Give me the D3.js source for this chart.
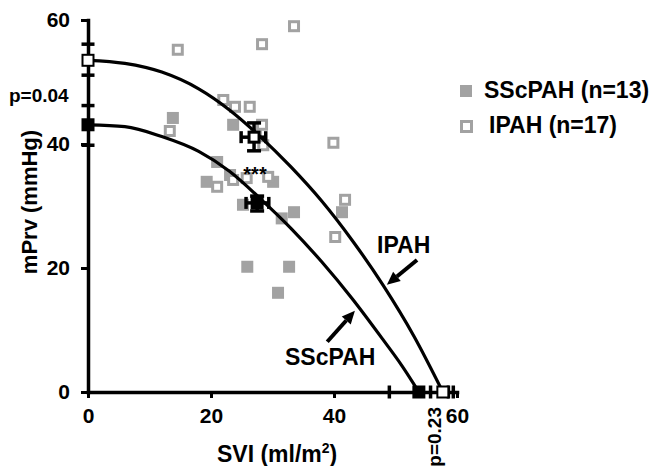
<!DOCTYPE html>
<html>
<head>
<meta charset="utf-8">
<script src="https://cdn.jsdelivr.net/npm/d3@7"></script>
<style>
  body { margin: 0; background: #fff; }
  svg { display: block; }
  text { font-family: "Liberation Sans", Arial, sans-serif; font-weight: bold; fill: #000; }
</style>
</head>
<body>
<div id="chart"></div>
<script>
// Individual patients, [SVI, mPrv]
var sscPoints = [
  [13.8, 44.2], [23.6, 43.1], [21.0, 37.1], [19.3, 33.9], [23.1, 35.0],
  [30.1, 33.9], [25.2, 30.2], [31.5, 28.0], [33.5, 29.0], [25.9, 20.2],
  [32.7, 20.2], [30.9, 16.0], [41.3, 29.0]
];
var ipahPoints = [
  [14.6, 55.2], [28.3, 56.1], [33.5, 59.0], [13.3, 42.1], [22.0, 47.1],
  [23.9, 46.0], [26.3, 46.0], [28.3, 43.1], [28.5, 39.8], [21.0, 33.1],
  [23.6, 34.2], [25.8, 34.5], [29.3, 34.7], [39.9, 40.2], [41.8, 31.0],
  [40.2, 25.0], [27.3, 41.5]
];

// Fitted curves
var ipahCurve = [
  [0, 53.5], [6, 53.0], [12, 51.6], [18, 48.9], [23, 45.5], [28, 41.2],
  [33, 36.3], [38, 30.8], [43, 24.4], [48, 17.2], [53, 9.0], [57.7, 0]
];
var sscCurve = [
  [0, 43.1], [6, 42.8], [12, 41.2], [18, 38.8], [23, 35.6], [28, 31.2],
  [33, 26.4], [38, 21.0], [43, 15.0], [48, 8.4], [51, 4.3], [53.8, 0]
];

// Group means with SEM
var groupMeans = [
  { name: "SScPAH", x: 27.5, xLo: 25.7, xHi: 29.4, y: 30.5, yLo: 29.2, yHi: 31.6, fill: "#000" },
  { name: "IPAH", x: 27.0, xLo: 24.9, xHi: 28.9, y: 41.1, yLo: 38.9, yHi: 43.4, fill: "#fff" }
];
// Intercepts on the axes
var yIntercepts = [
  { name: "IPAH", v: 53.5, lo: 51.1, hi: 56.1, fill: "#fff" },
  { name: "SScPAH", v: 43.1, lo: 39.8, hi: 46.2, fill: "#000" }
];
var xIntercepts = [
  { name: "SScPAH", v: 53.8, lo: 49.0, hi: 58.6, fill: "#000" },
  { name: "IPAH", v: 57.7, lo: 55.7, hi: 59.4, fill: "#fff" }
];

var xTicks = [0, 20, 40, 60];
var yTicks = [0, 20, 40, 60];
var legendItems = [
  { label: "SScPAH (n=13)", open: false },
  { label: "IPAH (n=17)", open: true }
];

var width = 654, height = 466;
var grey = "#a2a2a2";

var svg = d3.select("#chart").append("svg")
    .attr("width", width)
    .attr("height", height);

var x = d3.scaleLinear().domain([0, 60]).range([88, 457]);
var y = d3.scaleLinear().domain([0, 60]).range([392, 20]);

// Scatter: filled grey squares first, open squares on top
var sq = 12;
svg.append("g").selectAll("rect")
    .data(sscPoints)
    .enter().append("rect")
    .attr("x", d => x(d[0]) - sq / 2)
    .attr("y", d => y(d[1]) - sq / 2)
    .attr("width", sq)
    .attr("height", sq)
    .style("fill", grey);

svg.append("g").selectAll("rect")
    .data(ipahPoints)
    .enter().append("rect")
    .attr("x", d => x(d[0]) - (sq - 3) / 2)
    .attr("y", d => y(d[1]) - (sq - 3) / 2)
    .attr("width", sq - 3)
    .attr("height", sq - 3)
    .style("fill", "#fff")
    .style("stroke", grey)
    .style("stroke-width", 3);

// Axes
var xAxis = svg.append("g")
    .attr("transform", "translate(0," + y(0) + ")")
    .call(d3.axisBottom(x).tickValues(xTicks).tickSize(6).tickSizeOuter(0).tickPadding(10));
var yAxis = svg.append("g")
    .attr("transform", "translate(" + x(0) + ",0)")
    .call(d3.axisLeft(y).tickValues(yTicks).tickSize(7).tickSizeOuter(0).tickPadding(11));

[xAxis, yAxis].forEach(function(a) {
  a.select(".domain").style("stroke", "#000").style("stroke-width", 3.5).style("stroke-linecap", "square");
  a.selectAll(".tick line").style("stroke", "#000").style("stroke-width", 3);
  a.selectAll(".tick text")
      .style("font-family", "'Liberation Sans', Arial, sans-serif")
      .style("font-weight", "bold")
      .style("font-size", "21px")
      .style("fill", "#000");
});

// Curves
var line = d3.line()
    .x(d => x(d[0]))
    .y(d => y(d[1]))
    .curve(d3.curveMonotoneX);

[ipahCurve, sscCurve].forEach(function(c) {
  svg.append("path")
      .datum(c)
      .attr("d", line)
      .style("fill", "none")
      .style("stroke", "#000")
      .style("stroke-width", 3.2);
});

// Intercept markers with caps
var cap = 13, msz = 13;
yIntercepts.forEach(function(d) {
  [d.lo, d.hi].forEach(function(v) {
    svg.append("line")
        .attr("x1", x(0) - cap / 2).attr("x2", x(0) + cap / 2)
        .attr("y1", y(v)).attr("y2", y(v))
        .style("stroke", "#000").style("stroke-width", 3.5);
  });
  svg.append("rect")
      .attr("x", x(0) - msz / 2 + 1).attr("y", y(d.v) - msz / 2 + 1)
      .attr("width", msz - 2).attr("height", msz - 2)
      .style("fill", d.fill).style("stroke", "#000").style("stroke-width", 2);
});
xIntercepts.forEach(function(d) {
  [d.lo, d.hi].forEach(function(v) {
    svg.append("line")
        .attr("y1", y(0) - cap / 2).attr("y2", y(0) + cap / 2)
        .attr("x1", x(v)).attr("x2", x(v))
        .style("stroke", "#000").style("stroke-width", 3.5);
  });
  svg.append("rect")
      .attr("x", x(d.v) - msz / 2 + 1).attr("y", y(0) - msz / 2 + 1)
      .attr("width", msz - 2).attr("height", msz - 2)
      .style("fill", d.fill).style("stroke", "#000").style("stroke-width", 2);
});

// Group means with error bars
groupMeans.forEach(function(d) {
  var g = svg.append("g");
  g.append("line")
      .attr("x1", x(d.xLo)).attr("x2", x(d.xHi))
      .attr("y1", y(d.y)).attr("y2", y(d.y))
      .style("stroke", "#000").style("stroke-width", 3.5);
  g.append("line")
      .attr("x1", x(d.x)).attr("x2", x(d.x))
      .attr("y1", y(d.yLo)).attr("y2", y(d.yHi))
      .style("stroke", "#000").style("stroke-width", 3.5);
  [d.xLo, d.xHi].forEach(function(v) {
    g.append("line")
        .attr("x1", x(v)).attr("x2", x(v))
        .attr("y1", y(d.y) - 6).attr("y2", y(d.y) + 6)
        .style("stroke", "#000").style("stroke-width", 3.5);
  });
  [d.yLo, d.yHi].forEach(function(v) {
    g.append("line")
        .attr("x1", x(d.x) - 7).attr("x2", x(d.x) + 7)
        .attr("y1", y(v)).attr("y2", y(v))
        .style("stroke", "#000").style("stroke-width", 3.5);
  });
  g.append("rect")
      .attr("x", x(d.x) - msz / 2 + 1.5).attr("y", y(d.y) - msz / 2 + 1.5)
      .attr("width", msz - 3).attr("height", msz - 3)
      .style("fill", d.fill).style("stroke", "#000").style("stroke-width", 3);
});

// Arrows pointing to the curves
var arrows = [
  { from: [53.5, 21.3], to: [48.6, 17.3] },
  { from: [38.9, 8.1], to: [43.4, 13.1] }
];
arrows.forEach(function(a) {
  var x1 = x(a.from[0]), y1 = y(a.from[1]), x2 = x(a.to[0]), y2 = y(a.to[1]);
  var ang = Math.atan2(y2 - y1, x2 - x1);
  var hl = 13, hw = 6;
  var bx = x2 - hl * Math.cos(ang), by = y2 - hl * Math.sin(ang);
  svg.append("line")
      .attr("x1", x1).attr("y1", y1).attr("x2", bx).attr("y2", by)
      .style("stroke", "#000").style("stroke-width", 4);
  svg.append("path")
      .attr("d", "M" + x2 + "," + y2 +
        "L" + (bx + hw * Math.sin(ang)) + "," + (by - hw * Math.cos(ang)) +
        "L" + (bx - hw * Math.sin(ang)) + "," + (by + hw * Math.cos(ang)) + "Z")
      .style("fill", "#000");
});

// Annotations
svg.append("text").attr("x", 377).attr("y", 253).style("font-size", "23px").text("IPAH");
svg.append("text").attr("x", 285).attr("y", 365).style("font-size", "23px").text("SScPAH");
svg.append("text").attr("x", 255).attr("y", 181).attr("text-anchor", "middle")
    .style("font-size", "20px").text("***");
svg.append("text").attr("x", 9).attr("y", 102).style("font-size", "19px").text("p=0.04");
svg.append("text")
    .attr("transform", "translate(441,407) rotate(-90)")
    .attr("text-anchor", "end")
    .style("font-size", "19px")
    .text("p=0.23");

// Axis titles
svg.append("text")
    .attr("transform", "translate(37,202) rotate(-90)")
    .attr("text-anchor", "middle")
    .style("font-size", "22px")
    .text("mPrv (mmHg)");
var xt = svg.append("text")
    .attr("x", 217).attr("y", 462)
    .style("font-size", "23px");
xt.append("tspan").text("SVI (ml/m");
xt.append("tspan").attr("dy", -9).style("font-size", "14px").text("2");
xt.append("tspan").attr("dy", 9).text(")");

// Legend
var legend = svg.append("g").selectAll("g")
    .data(legendItems)
    .enter().append("g")
    .attr("transform", (d, i) => "translate(460," + (85 + i * 35) + ")");
legend.append("rect")
    .attr("x", d => d.open ? 1.5 : 0)
    .attr("y", d => d.open ? 1.5 : 0)
    .attr("width", d => d.open ? 10 : 12)
    .attr("height", d => d.open ? 10 : 12)
    .style("fill", d => d.open ? "#fff" : grey)
    .style("stroke", d => d.open ? grey : "none")
    .style("stroke-width", 3);
legend.append("text")
    .attr("x", (d, i) => i === 0 ? 24 : 29)
    .attr("y", 13)
    .style("font-size", "23px")
    .text(d => d.label);
</script>
</body>
</html>
